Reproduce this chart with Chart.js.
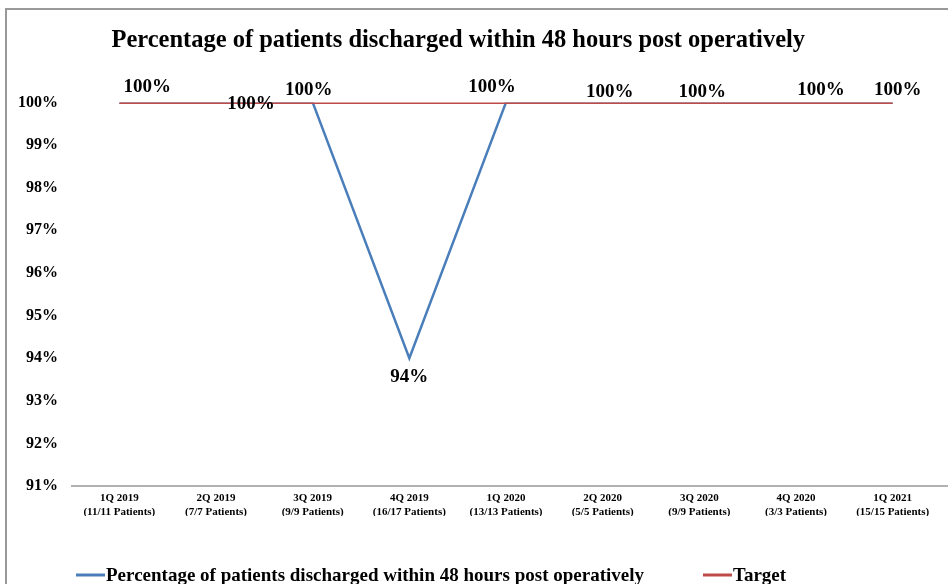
<!DOCTYPE html>
<html>
<head>
<meta charset="utf-8">
<script src="https://cdn.jsdelivr.net/npm/chart.js@4/dist/chart.umd.min.js"></script>
<style>
	body { margin: 0; overflow: hidden; background: #fff; }
	#frame { position: absolute; left: 5px; top: 8px; width: 1000px; height: 700px;
		border-left: 2px solid #999; border-top: 2px solid #999; }
	#wrap { position: absolute; left: 0; top: 0; width: 948px; height: 584px; }
</style>
</head>
<body>
<div id="frame"></div>
<div id="wrap"><canvas id="myChart" width="948" height="584"></canvas></div>
<script>
// data
const quarters = [
	['1Q 2019', '(11/11 Patients)'],
	['2Q 2019', '(7/7 Patients)'],
	['3Q 2019', '(9/9 Patients)'],
	['4Q 2019', '(16/17 Patients)'],
	['1Q 2020', '(13/13 Patients)'],
	['2Q 2020', '(5/5 Patients)'],
	['3Q 2020', '(9/9 Patients)'],
	['4Q 2020', '(3/3 Patients)'],
	['1Q 2021', '(15/15 Patients)']
];
const discharged = [100, 100, 100, 94, 100, 100, 100, 100, 100];
const target = [100, 100, 100, 100, 100, 100, 100, 100, 100];
const yTicks = [91, 92, 93, 94, 95, 96, 97, 98, 99, 100];

const seriesName = 'Percentage of patients discharged within 48 hours post operatively';
const serif = "'Liberation Serif', 'Times New Roman', serif";

// where Excel put each value label, relative to its point
const labelShift = [[28, -15], [35, 2], [-4, -12], [0, 19], [-14, -15], [7, -10], [3, -10], [25, -12], [5, -12]];

const valueLabels = {
	id: 'valueLabels',
	beforeDatasetsDraw(chart) {
		// x axis line runs a bit further than the plot like in excel
		const c = chart.ctx;
		const a = chart.chartArea;
		c.save();
		c.strokeStyle = '#999';
		c.lineWidth = 1.5;
		c.beginPath();
		c.moveTo(a.left, a.bottom);
		c.lineTo(chart.width, a.bottom);
		c.stroke();
		c.restore();
	},
	afterDatasetsDraw(chart) {
		const c = chart.ctx;
		const meta = chart.getDatasetMeta(0);
		c.save();
		c.font = 'bold 19px ' + serif;
		c.fillStyle = '#000';
		c.textAlign = 'center';
		c.textBaseline = 'middle';
		meta.data.forEach((pt, i) => {
			const s = labelShift[i];
			c.fillText(discharged[i] + '%', pt.x + s[0], pt.y + s[1]);
		});

		// legend, drawn by hand so it can sit low like the original
		const items = chart.data.datasets;
		const xs = [76, 703];
		const y = 575;
		c.font = 'bold 19px ' + serif;
		items.forEach((ds, i) => {
			c.strokeStyle = ds.borderColor;
			c.lineWidth = 3;
			c.beginPath();
			c.moveTo(xs[i], y);
			c.lineTo(xs[i] + 29, y);
			c.stroke();
			c.textAlign = 'left';
			c.fillStyle = '#000';
			c.fillText(ds.label, xs[i] + 30, y + 1);
		});
		c.restore();
	}
};

const ctx = document.getElementById('myChart').getContext('2d');
const myChart = new Chart(ctx, {
	type: 'line',
	data: {
		labels: quarters,
		datasets: [
			{
				label: seriesName,
				data: discharged,
				borderColor: '#4a7ebb',
				backgroundColor: '#4a7ebb',
				borderWidth: 2.5,
				pointRadius: 0,
				tension: 0,
				order: 1
			},
			{
				label: 'Target',
				data: target,
				borderColor: '#be4b48',
				backgroundColor: '#be4b48',
				borderWidth: 3,
				pointRadius: 0,
				tension: 0,
				order: 0
			}
		]
	},
	options: {
		responsive: false,
		animation: false,
		layout: { padding: { left: 0, right: 7, top: 0, bottom: 68 } },
		plugins: {
			legend: { display: false },
			tooltip: { enabled: false },
			title: {
				display: true,
				// trailing spaces nudge the centred title a little to the left
				text: seriesName + '    ',
				color: '#000',
				font: { family: serif, size: 24.5, weight: 'bold' },
				padding: { top: 26, bottom: 47 }
			}
		},
		scales: {
			x: {
				offset: true,
				grid: { display: false, drawTicks: false },
				border: { display: false },
				ticks: {
					color: '#000',
					font: { family: serif, size: 11, weight: 'bold' },
					maxRotation: 0,
					autoSkip: false,
					padding: 6
				},
				afterFit(scale) { scale.height = 30; }
			},
			y: {
				min: 91,
				max: 100,
				afterBuildTicks(scale) { scale.ticks = yTicks.map(v => ({ value: v })); },
				grid: { display: false, drawTicks: false },
				border: { display: false },
				ticks: {
					color: '#000',
					font: { family: serif, size: 16, weight: 'bold' },
					padding: 13,
					callback: v => v + '%'
				},
				afterFit(scale) { scale.width = 71; }
			}
		}
	},
	plugins: [valueLabels]
});
</script>
</body>
</html>
